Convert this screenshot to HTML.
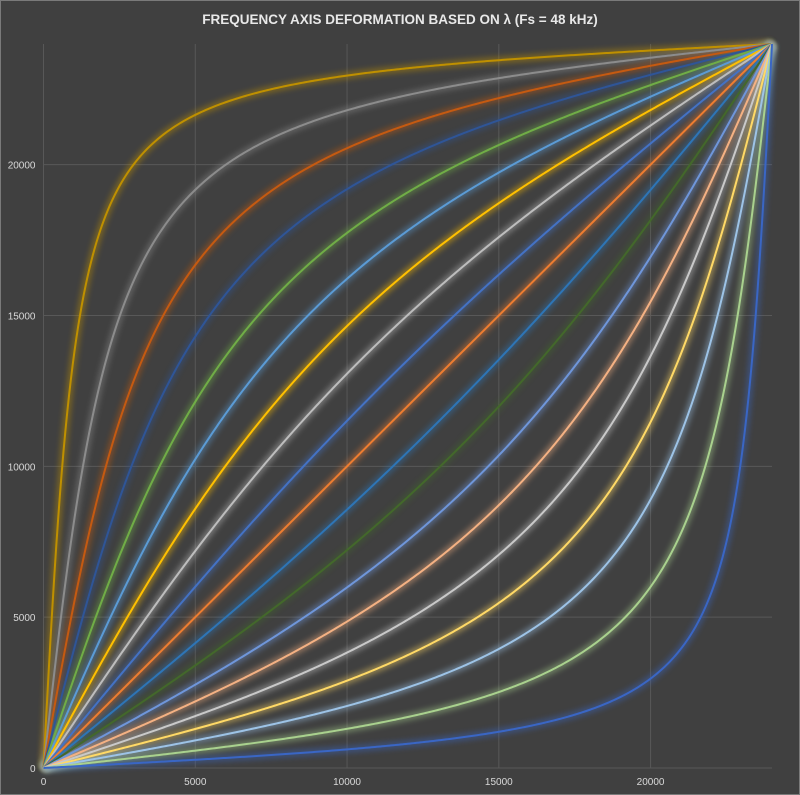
<!DOCTYPE html>
<html><head><meta charset="utf-8"><style>
html,body{margin:0;padding:0;background:#404040;}
svg{display:block;font-family:"Liberation Sans",sans-serif;}
</style></head><body>
<svg id="chart" width="800" height="795" viewBox="0 0 800 795">
<defs><filter id="glow" x="-10%" y="-10%" width="120%" height="120%"><feGaussianBlur stdDeviation="3"/></filter></defs>
<rect x="0.5" y="0.5" width="799" height="794" fill="#404040" stroke="#7a7a7a"/>
<text x="400" y="24" text-anchor="middle" fill="#e8e8e8" font-size="13.5" font-weight="bold">FREQUENCY AXIS DEFORMATION BASED ON λ (Fs = 48 kHz)</text>
<g id="grid"></g><g id="glows"></g><g id="lines"></g><g id="labels"></g>
</svg>
<script>
const lambdas=[0.9,0.8,0.7,0.6,0.5,0.4,0.3,0.2,0.1,0,-0.1,-0.2,-0.3,-0.4,-0.5,-0.6,-0.7,-0.8,-0.9];
const colors=["#BF9000","#8C8C8C","#C55A11","#2F5597","#70AD47","#5B9BD5","#FFC000","#BDBDBD","#4472C4","#ED7D31","#2E75B6","#43682B","#6F96DA","#F4B183","#C9C9C9","#FFD966","#9DC3E6","#A9D18E","#3A66C4"];
const xTicks=[0,5000,10000,15000,20000];
const yTicks=[0,5000,10000,15000,20000];
const fMax=24000;
const X0=43.5,X1=772,Y0=768,Y1=44;
const sx=v=>X0+(X1-X0)*v/fMax, sy=v=>Y0-(Y0-Y1)*v/fMax;
const NS="http://www.w3.org/2000/svg";
function mk(t,a,p){const e=document.createElementNS(NS,t);for(const k in a)e.setAttribute(k,a[k]);p.appendChild(e);return e;}
const grid=document.getElementById('grid'),labels=document.getElementById('labels');
xTicks.forEach(v=>{
 const l=mk('line',{x1:sx(v),x2:sx(v),y1:Y1,y2:Y0,stroke:'#585858','stroke-width':1},grid);
 
 
 const t=mk('text',{x:sx(v),y:Y0+17,'text-anchor':'middle',fill:'#d9d9d9','font-size':'10'},labels);
 t.textContent=v;
 
 
});
yTicks.forEach(v=>{
 const l=mk('line',{x1:X0,x2:X1,y1:sy(v),y2:sy(v),stroke:'#585858','stroke-width':1},grid);
 
 
 const t=mk('text',{x:X0-8,y:sy(v)+4,'text-anchor':'end',fill:'#d9d9d9','font-size':'10'},labels);
 t.textContent=v;
 
 
});
function warp(f,lam){const w=Math.PI*f/fMax;return fMax*(w+2*Math.atan(lam*Math.sin(w)/(1-lam*Math.cos(w))))/Math.PI;}
const glows=document.getElementById('glows'),lines=document.getElementById('lines');
lambdas.forEach((lam,i)=>{
 let d='';
 for(let k=0;k<=400;k++){const f=fMax*k/400;d+=(k?'L':'M')+sx(f).toFixed(2)+','+sy(warp(f,lam)).toFixed(2);}
 const g=mk('path',{d:d,fill:'none',stroke:colors[i],'stroke-width':7,opacity:0.45,filter:'url(#glow)'},glows);
 
 
 const p=mk('path',{d:d,fill:'none',stroke:colors[i],'stroke-width':2},lines);
 
 
});
</script>
</body></html>
